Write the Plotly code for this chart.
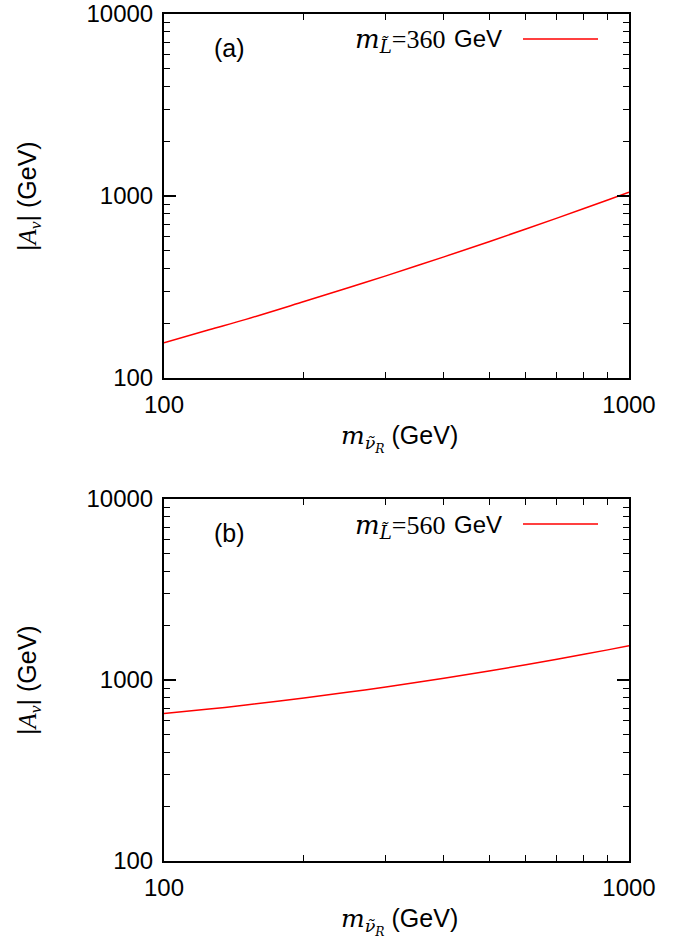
import plotly.graph_objects as go

# Data
m_nuR = [100, 125, 150, 200, 250, 300, 400, 500, 600, 700, 800, 900, 1000]
A_nu_a = [156, 184, 210, 263, 314, 364, 463, 561, 659, 756, 853, 951, 1050]   # m_L = 360 GeV
A_nu_b = [652, 691, 727, 795, 858, 915, 1023, 1122, 1213, 1301, 1386, 1467, 1545]  # m_L = 560 GeV
panel_labels = ["(a)", "(b)"]
legend_mL = ["360", "560"]
y_ticks = [100, 1000, 10000]
x_ticks = [100, 1000]
y_minor = [200, 300, 400, 500, 600, 700, 800, 900,
           2000, 3000, 4000, 5000, 6000, 7000, 8000, 9000]
x_minor = [200, 300, 400, 500, 600, 700, 800, 900]

W, H = 689, 941
L, R = 164, 629
panels = [(14, 378), (499, 861)]  # top, bottom in pixels

def px(x):
    return x / W

def py(y):
    return 1 - y / H

fig = go.Figure()
series = [A_nu_a, A_nu_b]
serif = "Liberation Serif"
sans = "Liberation Sans"

for i, (top, bot) in enumerate(panels):
    xa = "x" if i == 0 else "x2"
    ya = "y" if i == 0 else "y2"
    fig.add_trace(go.Scatter(x=m_nuR, y=series[i], mode="lines",
                             line=dict(color="#ff0000", width=1.5, shape="spline"),
                             xaxis=xa, yaxis=ya, showlegend=False, hoverinfo="skip",
                             cliponaxis=True))
    axcommon = dict(type="log", showline=True, linecolor="black", linewidth=2,
                    mirror="ticks", ticks="inside", ticklen=12, tickwidth=1.5,
                    tickcolor="black", showgrid=False, zeroline=False,
                    automargin=False,
                    tickfont=dict(family=sans, size=24, color="black"))
    xkey = "xaxis" if i == 0 else "xaxis2"
    ykey = "yaxis" if i == 0 else "yaxis2"
    fig.update_layout(**{
        xkey: dict(axcommon, domain=[px(L), px(R)], range=[2, 3],
                   tickmode="array", tickvals=x_ticks,
                   ticktext=[str(v) for v in x_ticks],
                   minor=dict(ticks="inside", ticklen=6, tickwidth=1.2,
                              tickcolor="black", showgrid=False, tickvals=x_minor),
                   anchor=ya, ticklabelstandoff=4),
        ykey: dict(axcommon, domain=[py(bot), py(top)], range=[2, 4],
                   tickmode="array", tickvals=y_ticks,
                   ticktext=[str(v) for v in y_ticks],
                   minor=dict(ticks="inside", ticklen=6, tickwidth=1.2,
                              tickcolor="black", showgrid=False, tickvals=y_minor),
                   anchor=xa, ticklabelstandoff=4),
    })
    # axis titles
    fig.add_annotation(x=px(399), y=py(bot + 60), xref="paper", yref="paper",
                       xanchor="center", yanchor="middle",
                       text=("<span style='font-family:DejaVu Serif'><i>m</i>"
                             "<sub><i>ν̃<sub>R</sub></i></sub></span> (GeV)"),
                       showarrow=False, font=dict(family=sans, size=25, color="black"))
    fig.add_annotation(x=px(29), y=py((top + bot) / 2), xref="paper", yref="paper",
                       xanchor="center", yanchor="middle",
                       text=("|<span style='font-family:Liberation Serif'><i>A<sub>ν</sub></i>"
                             "</span>| (GeV)"),
                       textangle=-90,
                       showarrow=False, font=dict(family=sans, size=25, color="black"))
    # panel label
    fig.add_annotation(x=px(229), y=py(top + 34), xref="paper", yref="paper",
                       xanchor="center", yanchor="middle",
                       text=panel_labels[i], showarrow=False,
                       font=dict(family=sans, size=25, color="black"))
    # legend text + sample line
    fig.add_annotation(x=px(447), y=py(top + 27), xref="paper", yref="paper",
                       xanchor="right", yanchor="middle",
                       text=("<span style='font-family:DejaVu Serif'><i>m</i><sub><i>L̃</i></sub></span>="
                             + legend_mL[i]),
                       showarrow=False, font=dict(family=serif, size=26, color="black"))
    fig.add_annotation(x=px(452), y=py(top + 25), xref="paper", yref="paper",
                       xanchor="left", yanchor="middle",
                       text="GeV",
                       showarrow=False, font=dict(family=sans, size=24, color="black"))
    fig.add_shape(type="line", xref="paper", yref="paper",
                  x0=px(523), x1=px(598), y0=py(top + 25), y1=py(top + 25),
                  line=dict(color="#ff0000", width=1.5))

fig.update_layout(width=W, height=H, margin=dict(l=0, r=0, t=0, b=0),
                  paper_bgcolor="white", plot_bgcolor="white", showlegend=False)

fig.write_html("out.html")
